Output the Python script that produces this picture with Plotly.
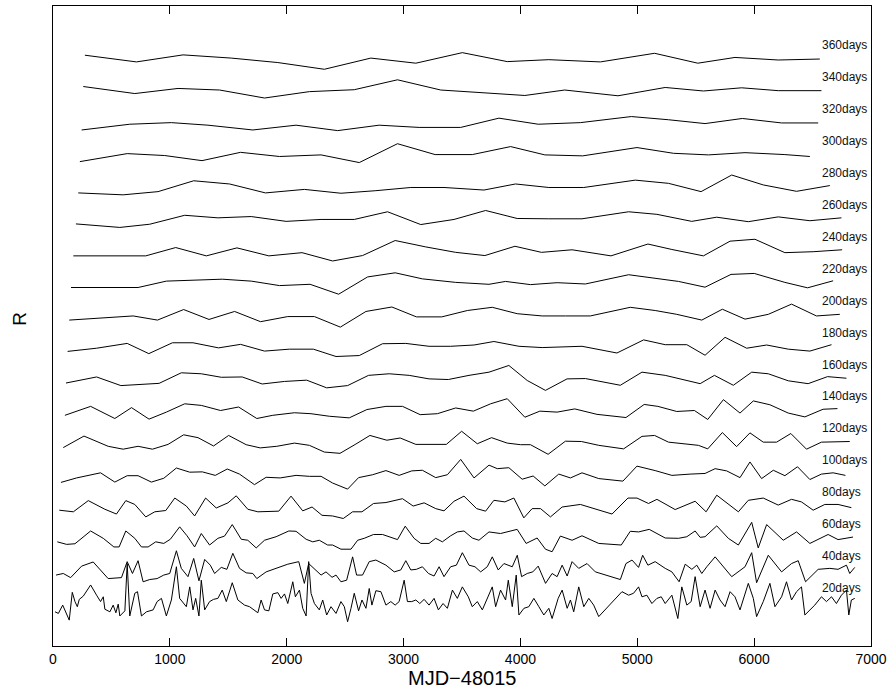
import plotly.graph_objects as go

# ---- data: binned R light curves (MJD-48015, relative R) ----
labels = ["20days", "40days", "60days", "80days", "100days", "120days", "140days",
          "160days", "180days", "200days", "220days", "240days", "260days", "280days",
          "300days", "320days", "340days", "360days"]

t20 = [17, 46, 83, 139, 165, 188, 208, 225, 259, 322,
       373, 407, 430, 444, 487, 515, 538, 558, 572, 615,
       635, 657, 700, 723, 757, 800, 857, 891, 928, 970,
       1013, 1056, 1084, 1141, 1170, 1198, 1221, 1249, 1269, 1298,
       1340, 1374, 1411, 1448, 1483, 1534, 1582, 1639, 1682, 1724,
       1753, 1781, 1810, 1847, 1881, 1924, 1952, 1981, 2009, 2052,
       2074, 2109, 2137, 2166, 2188, 2208, 2237, 2279, 2308, 2342,
       2379, 2422, 2464, 2493, 2521, 2550, 2578, 2615, 2644, 2678,
       2706, 2729, 2763, 2806, 2849, 2891, 2928, 2962, 3005, 3033,
       3070, 3105, 3139, 3176, 3218, 3261, 3298, 3338, 3375, 3418,
       3460, 3503, 3554, 3588, 3631, 3674, 3716, 3759, 3788, 3830,
       3873, 3896, 3930, 3964, 3987, 4030, 4072, 4115, 4158, 4200,
       4243, 4271, 4323, 4357, 4400, 4428, 4456, 4499, 4542, 4585,
       4627, 4670, 4869, 4926, 4968, 5011, 5040, 5082, 5125, 5168,
       5205, 5239, 5296, 5347, 5381, 5424, 5461, 5495, 5538, 5580,
       5623, 5666, 5708, 5751, 5794, 5836, 5879, 5922, 5950, 5993,
       6021, 6078, 6135, 6178, 6235, 6277, 6320, 6363, 6405, 6434,
       6477, 6519, 6576, 6619, 6662, 6704, 6747, 6790, 6810, 6832,
       6861]
r20 = [-0.23, -0.28, -0.02, -0.49, 0.38, 0.09, -0.07, 0.16, 0.26, 0.61,
       0.29, 0.09, 0.24, -0.15, -0.23, -0.02, -0.26, 0.01, -0.36, -0.20,
       1.28, -0.36, 0.35, 0.40, -0.36, -0.23, -0.17, 0.09, 0.19, -0.36,
       0.14, 1.18, 0.19, -0.07, 0.55, -0.17, 0.19, -0.36, 0.76, -0.17,
       0.09, 0.16, 0.19, 0.45, 0.09, 0.68, 0.14, -0.02, -0.07, -0.17,
       -0.26, 0.14, -0.17, -0.20, 0.33, 0.37, 0.19, 0.33, 0.03, 0.71,
       0.24, 0.45, -0.12, -0.36, 1.34, 0.35, 0.03, -0.17, 0.14, -0.33,
       -0.07, -0.28, 0.09, -0.07, -0.54, -0.12, 0.35, -0.20, 0.14, -0.12,
       0.50, -0.02, 0.43, 0.40, -0.02, 0.09, -0.02, 0.09, 0.76, 0.09,
       0.09, 0.14, 0.03, 0.16, -0.02, 0.19, -0.17, 0.03, -0.12, 0.45,
       0.19, 0.55, 0.24, -0.07, 0.09, -0.17, 0.19, 0.55, -0.07, 0.45,
       0.14, 0.76, -0.07, 0.92, -0.33, -0.12, -0.07, 0.19, -0.07, -0.33,
       -0.12, -0.44, 0.19, 0.45, -0.12, 0.14, -0.23, 0.55, -0.07, 0.19,
       -0.02, -0.38, 0.40, 0.29, 0.35, 0.55, 0.24, 0.29, 0.03, 0.19,
       0.24, 0.03, 0.29, -0.44, 0.55, -0.02, 0.09, 0.87, -0.07, 0.45,
       -0.12, 0.45, 0.14, -0.07, 0.40, 0.24, -0.17, 0.29, 0.66, 0.19,
       -0.38, 0.09, 0.66, -0.07, 0.24, 0.71, 0.14, 0.40, 0.55, -0.33,
       -0.17, -0.02, 0.24, 0.09, 0.24, 0.03, 0.29, 0.45, -0.33, 0.14,
       0.19]

t40 = [26, 88, 151, 245, 344, 472, 586, 635, 680, 728,
       771, 828, 891, 948, 999, 1056, 1098, 1155, 1204, 1249,
       1298, 1346, 1383, 1440, 1488, 1539, 1596, 1653, 1710, 1744,
       1824, 1909, 2009, 2103, 2151, 2188, 2237, 2294, 2336, 2388,
       2422, 2464, 2513, 2564, 2598, 2649, 2706, 2763, 2849, 2920,
       2976, 3019, 3062, 3110, 3161, 3213, 3261, 3304, 3346, 3403,
       3452, 3503, 3560, 3611, 3660, 3716, 3759, 3810, 3859, 3930,
       3973, 4010, 4058, 4106, 4152, 4215, 4271, 4314, 4357, 4400,
       4442, 4499, 4570, 4641, 4855, 4903, 4955, 5011, 5046, 5091,
       5153, 5239, 5296, 5358, 5410, 5467, 5509, 5552, 5595, 5666,
       5808, 5922, 5979, 6021, 6121, 6235, 6320, 6377, 6440, 6548,
       6648, 6718, 6790, 6818, 6861]
r40 = [-0.08, -0.03, -0.16, 0.20, 0.33, -0.19, -0.16, 0.34, -0.03, 0.37,
       -0.29, -0.22, -0.19, -0.08, -0.03, 0.68, 0.13, -0.13, 0.44, -0.26,
       0.41, 0.23, -0.03, 0.16, 0.10, 0.60, 0.13, -0.01, -0.03, -0.19,
       0.02, 0.13, 0.26, 0.34, -0.34, 0.28, 0.10, -0.08, 0.02, -0.15,
       -0.08, -0.29, -0.24, 0.49, -0.08, -0.08, 0.34, 0.39, 0.23, 0.02,
       0.08, 0.37, 0.08, 0.10, 0.18, -0.03, -0.11, 0.18, -0.13, 0.18,
       0.23, 0.62, 0.23, 0.18, 0.02, 0.18, 0.49, 0.08, 0.28, 0.18,
       0.54, -0.13, -0.03, 0.02, 0.20, -0.34, -0.03, -0.13, 0.23, -0.11,
       0.34, 0.13, 0.28, 0.02, -0.22, 0.28, 0.39, 0.16, 0.54, 0.23,
       0.34, 0.13, 0.02, -0.29, 0.26, 0.10, 0.23, -0.03, 0.18, 0.49,
       -0.13, 0.18, 0.62, -0.32, 0.54, 0.02, 0.28, 0.37, -0.29, 0.10,
       0.13, 0.10, 0.23, -0.03, 0.16]

t60 = [37, 117, 188, 322, 430, 521, 566, 623, 700, 757, 814, 879, 948, 1004,
       1084, 1147, 1212, 1269, 1340, 1411, 1468, 1534, 1611, 1667, 1739, 1810,
       1909, 2018, 2080, 2166, 2223, 2279, 2350, 2393, 2464, 2550, 2607, 2663,
       2743, 2820, 2948, 3014, 3090, 3147, 3218, 3275, 3332, 3403, 3460, 3517,
       3588, 3645, 3731, 3830, 3972, 4049, 4143, 4214, 4271, 4342, 4442, 4527,
       4670, 4863, 4940, 5011, 5102, 5239, 5353, 5424, 5495, 5538, 5580, 5680,
       5779, 5865, 5979, 6035, 6107, 6249, 6363, 6477, 6633, 6718, 6846]
r60 = [-0.04, -0.12, -0.10, 0.30, 0.07, -0.20, -0.20, 0.30, 0.07, -0.20, -0.20,
       -0.04, -0.09, 0.04, 0.43, 0.15, -0.20, 0.22, -0.14, 0.07, 0.14, 0.50, 0.04,
       0.01, -0.23, 0.01, 0.12, 0.30, 0.29, 0.04, -0.04, 0.01, -0.14, -0.14, -0.27,
       -0.27, 0.01, 0.07, 0.19, 0.19, 0.03, 0.45, 0.07, -0.09, -0.09, 0.07, -0.04,
       0.15, 0.27, 0.30, 0.08, 0.01, 0.27, 0.22, 0.35, -0.09, 0.08, -0.27, -0.35,
       0.14, 0.01, 0.15, -0.09, -0.14, 0.29, 0.27, 0.35, 0.08, 0.07, 0.12, 0.30,
       0.10, 0.12, 0.46, 0.07, -0.14, 0.57, -0.23, 0.50, 0.01, 0.27, -0.09, 0.19,
       0.03, 0.11]

t80 = [54, 174, 302, 444, 543, 623, 700, 794, 871, 965, 1042, 1141, 1212, 1306,
       1397, 1497, 1568, 1667, 1753, 1932, 2037, 2137, 2217, 2302, 2393, 2484,
       2564, 2644, 2743, 2849, 2991, 3082, 3176, 3275, 3346, 3432, 3517, 3625,
       3702, 3773, 3867, 3944, 4029, 4100, 4172, 4257, 4357, 4513, 4784, 4920,
       4997, 5096, 5168, 5324, 5495, 5589, 5680, 5865, 5950, 6078, 6206, 6320,
       6405, 6505, 6605, 6718, 6832]
r80 = [-0.05, -0.10, 0.25, -0.02, -0.17, 0.25, 0.13, -0.26, -0.10, -0.06, 0.33,
       0.08, -0.23, 0.33, 0.02, 0.18, 0.40, -0.02, -0.10, -0.08, 0.39, -0.07, 0.05,
       -0.21, -0.23, -0.31, -0.10, -0.10, 0.16, 0.19, 0.31, 0.08, 0.18, 0.00, -0.07,
       0.23, 0.39, 0.00, -0.08, 0.26, 0.21, 0.33, -0.29, 0.00, 0.00, -0.26, 0.05,
       0.13, -0.17, 0.33, 0.33, 0.16, 0.29, -0.03, 0.23, -0.10, 0.42, -0.10, 0.26,
       0.33, 0.11, 0.29, 0.21, -0.05, 0.13, 0.13, 0.03]

t100 = [68, 202, 407, 529, 635, 728, 842, 948, 1056, 1170, 1278, 1389, 1491, 1596,
        1724, 1824, 1944, 2080, 2194, 2294, 2393, 2521, 2615, 2735, 2849, 2962,
        3070, 3161, 3275, 3375, 3489, 3603, 3731, 3802, 3901, 4015, 4109, 4209,
        4328, 4428, 4527, 4670, 4877, 4997, 5153, 5296, 5452, 5580, 5666, 5765,
        5879, 5964, 6064, 6164, 6263, 6371, 6477, 6576, 6676, 6781]
r100 = [-0.18, -0.04, 0.12, -0.17, 0.03, 0.03, -0.17, -0.05, 0.27, 0.14, 0.15,
        0.04, 0.24, 0.08, -0.25, -0.02, -0.04, 0.04, 0.01, 0.01, -0.20, -0.39,
        -0.03, 0.06, 0.19, 0.04, 0.18, 0.20, -0.03, 0.06, 0.54, -0.04, 0.36, 0.25,
        0.28, -0.08, 0.02, -0.29, 0.08, -0.04, 0.12, -0.06, -0.14, 0.33, 0.19, 0.04,
        0.08, 0.10, 0.25, 0.18, -0.03, 0.46, -0.06, 0.20, 0.03, 0.31, -0.09, 0.08,
        0.12, 0.04]

t120 = [88, 265, 472, 600, 728, 851, 985, 1118, 1241, 1374, 1503, 1653, 1773,
        1915, 2066, 2194, 2322, 2456, 2592, 2712, 2857, 2971, 3105, 3233, 3366,
        3497, 3631, 3753, 3887, 4001, 4086, 4237, 4385, 4522, 4670, 4883, 5040,
        5148, 5267, 5523, 5603, 5728, 5850, 5964, 6078, 6192, 6314, 6448, 6576, 6818]
r120 = [-0.09, 0.27, -0.05, -0.14, -0.05, -0.14, 0.01, 0.31, 0.22, -0.04, 0.29,
        0.00, -0.10, -0.05, 0.05, -0.02, -0.23, -0.27, 0.02, 0.29, 0.14, 0.21, 0.01,
        0.01, 0.01, 0.42, 0.03, 0.22, 0.05, 0.00, 0.00, -0.30, 0.11, 0.10, -0.02,
        -0.13, 0.26, 0.29, 0.08, -0.02, -0.13, 0.38, -0.06, 0.37, 0.08, 0.08, 0.35,
        -0.14, 0.08, 0.10]

t140 = [102, 322, 529, 672, 822, 970, 1127, 1269, 1434, 1588, 1744, 1881, 2066,
        2208, 2365, 2535, 2686, 2849, 2991, 3142, 3289, 3446, 3597, 3745, 3887,
        4038, 4166, 4314, 4465, 4655, 4903, 5059, 5176, 5338, 5489, 5603, 5737,
        5879, 5993, 6135, 6292, 6434, 6590, 6713]
r140 = [-0.08, 0.20, -0.18, 0.16, -0.20, 0.02, 0.28, 0.23, 0.07, 0.18, -0.18,
        -0.08, 0.00, -0.03, -0.11, -0.16, 0.10, 0.20, 0.20, -0.06, -0.03, 0.15, 0.05,
        0.28, 0.44, -0.14, 0.05, 0.02, 0.12, -0.05, -0.15, 0.26, 0.20, 0.04, 0.07,
        -0.21, 0.41, -0.01, 0.37, 0.25, -0.01, -0.13, 0.11, 0.13]

t160 = [111, 373, 581, 743, 908, 1098, 1269, 1440, 1619, 1790, 1981, 2171, 2342,
        2521, 2700, 2877, 3048, 3218, 3383, 3560, 3731, 3901, 4058, 4214, 4399,
        4556, 4855, 5040, 5239, 5538, 5660, 5822, 5979, 6121, 6292, 6462, 6628, 6790]
r160 = [-0.07, 0.12, -0.15, -0.11, -0.08, 0.25, 0.22, 0.11, 0.12, -0.10, -0.02,
        0.02, -0.22, -0.15, 0.17, 0.22, 0.17, 0.06, 0.04, 0.17, 0.27, 0.48, 0.01,
        -0.30, 0.06, 0.07, -0.14, 0.27, 0.17, -0.09, 0.17, -0.14, 0.27, 0.22, 0.00,
        -0.09, 0.13, 0.08]

t180 = [125, 373, 635, 820, 1022, 1198, 1417, 1605, 1810, 2023, 2228, 2422, 2621,
        2820, 3019, 3218, 3403, 3603, 3773, 3987, 4186, 4527, 4826, 5054, 5239,
        5424, 5580, 5751, 5936, 6107, 6292, 6477, 6662]
r180 = [-0.08, 0.02, 0.17, -0.15, 0.19, 0.19, 0.03, 0.14, -0.07, -0.01, -0.01,
        -0.24, -0.21, 0.16, 0.17, 0.08, 0.08, 0.12, 0.23, 0.08, 0.04, 0.08, -0.13,
        0.28, 0.13, 0.13, -0.20, 0.36, 0.02, 0.12, -0.01, -0.07, 0.13]

t200 = [139, 401, 686, 894, 1118, 1335, 1554, 1776, 2009, 2237, 2459, 2678, 2900,
        3110, 3327, 3546, 3759, 3972, 4186, 4385, 4598, 4940, 5153, 5338, 5552,
        5728, 5922, 6121, 6320, 6533, 6733]
r200 = [-0.10, -0.04, 0.03, -0.10, 0.23, -0.08, 0.17, -0.15, 0.01, 0.01, -0.32,
        0.17, 0.31, 0.00, 0.00, 0.20, 0.30, 0.10, 0.03, 0.03, 0.03, 0.30, 0.20, 0.08,
        -0.10, 0.24, -0.07, 0.08, 0.40, 0.03, 0.08]

t220 = [154, 458, 728, 970, 1198, 1448, 1696, 1938, 2200, 2444, 2692, 2928, 3161,
        3446, 3731, 3873, 4086, 4314, 4556, 4926, 5353, 5580, 5802, 6001, 6263,
        6457, 6676]
r220 = [-0.08, -0.08, -0.08, 0.12, 0.14, 0.18, 0.12, -0.02, 0.02, -0.29, 0.25,
        0.38, 0.19, 0.08, 0.02, 0.11, 0.01, 0.07, 0.03, 0.32, 0.11, -0.07, 0.33,
        0.36, 0.08, -0.09, 0.13]

t240 = [174, 486, 794, 1050, 1312, 1574, 1847, 2131, 2393, 2649, 2928, 3190, 3446,
        3696, 3953, 4180, 4442, 4775, 5091, 5296, 5566, 5794, 6007, 6263, 6505, 6753]
r240 = [-0.09, -0.09, -0.09, 0.17, -0.09, 0.16, -0.09, 0.01, -0.25, -0.08, 0.39,
        0.19, 0.02, -0.08, 0.21, 0.02, 0.10, -0.09, 0.28, 0.11, -0.09, 0.37, 0.43,
        0.01, 0.04, 0.10]

t260 = [196, 572, 828, 1127, 1411, 1696, 1995, 2294, 2578, 2863, 3147, 3432, 3702,
        3972, 4243, 4527, 4926, 5168, 5466, 5680, 5950, 6206, 6477, 6747]
r260 = [-0.09, -0.20, -0.10, 0.18, 0.10, 0.14, -0.01, 0.05, 0.05, 0.29, -0.11,
        0.05, 0.33, 0.08, 0.07, 0.07, 0.29, 0.21, -0.01, 0.12, -0.02, 0.13, 0.01, 0.10]

t280 = [216, 600, 899, 1204, 1511, 1818, 2151, 2464, 2763, 3062, 3346, 3688, 3958,
        4243, 4542, 4983, 5267, 5546, 5808, 6078, 6363, 6648]
r280 = [-0.12, -0.18, -0.08, 0.26, 0.16, -0.12, -0.01, -0.13, -0.05, 0.05, 0.05,
        -0.03, 0.16, 0.05, 0.05, 0.28, 0.18, -0.08, 0.44, 0.13, -0.07, 0.11]

t300 = [230, 635, 956, 1275, 1605, 1938, 2294, 2621, 2948, 3270, 3588, 3916, 4209,
        4533, 4997, 5310, 5609, 5922, 6263, 6477]
r300 = [-0.14, 0.11, 0.05, -0.11, 0.15, 0.02, 0.07, -0.17, 0.42, 0.08, 0.08, 0.33,
        0.07, 0.04, 0.30, 0.12, 0.07, 0.14, 0.08, 0.02]

t320 = [245, 657, 1013, 1326, 1710, 2080, 2436, 2791, 3133, 3489, 3816, 4152, 4513,
        4949, 5268, 5580, 5899, 6235, 6548]
r320 = [-0.15, 0.03, 0.08, 0.00, -0.15, 0.00, -0.17, 0.00, -0.07, -0.07, 0.22,
        0.03, 0.08, 0.27, 0.17, 0.05, 0.21, 0.07, 0.07]

t340 = [259, 700, 1070, 1426, 1810, 2194, 2578, 2948, 3318, 3700, 4038, 4379, 4835,
        5239, 5566, 5893, 6206, 6576]
r340 = [0.21, -0.01, 0.15, 0.10, -0.15, 0.05, 0.11, 0.42, 0.10, 0.00, -0.07, 0.10,
        -0.08, 0.18, 0.07, 0.17, 0.08, 0.08]

t360 = [273, 714, 1113, 1525, 1924, 2322, 2720, 3105, 3503, 3887, 4243, 4684, 5148,
        5518, 5836, 6206, 6562]
r360 = [0.19, -0.02, 0.20, 0.10, -0.04, -0.25, 0.10, -0.06, 0.27, -0.01, 0.05,
        -0.02, 0.25, -0.06, 0.12, 0.04, 0.07]

times = [t20, t40, t60, t80, t100, t120, t140, t160, t180, t200, t220, t240,
         t260, t280, t300, t320, t340, t360]
mags = [r20, r40, r60, r80, r100, r120, r140, r160, r180, r200, r220, r240,
        r260, r280, r300, r320, r340, r360]
xticks = [0, 1000, 2000, 3000, 4000, 5000, 6000, 7000]

# ---- presentation ----
BASE = 1.3      # offset of the lowest curve
STEP = 1.0      # vertical separation between curves
LABEL_DY = 0.51
LABEL_X = 6560
FONT = "Liberation Sans, Arial, Helvetica, sans-serif"

fig = go.Figure()
annotations = []
for i, (t, m, lab) in enumerate(zip(times, mags, labels)):
    off = BASE + STEP * i
    fig.add_trace(go.Scatter(
        x=t, y=[v + off for v in m], mode="lines",
        line=dict(color="black", width=1), showlegend=False, hoverinfo="skip"))
    annotations.append(dict(
        x=LABEL_X, y=off + LABEL_DY, xref="x", yref="y", text=lab,
        showarrow=False, xanchor="left", yanchor="middle",
        font=dict(family=FONT, size=12, color="#111111")))

annotations.append(dict(
    x=0.5, y=-0.05, xref="paper", yref="paper", text="MJD\u221248015",
    showarrow=False, xanchor="center", yanchor="middle",
    font=dict(family=FONT, size=20, color="black")))
annotations.append(dict(
    x=-0.041, y=0.512, xref="paper", yref="paper", text="R", textangle=-90,
    showarrow=False, xanchor="center", yanchor="middle",
    font=dict(family=FONT, size=19, color="black")))

fig.update_layout(
    width=892, height=689,
    margin=dict(l=53, r=19, t=5, b=43),
    paper_bgcolor="white", plot_bgcolor="white",
    annotations=annotations,
    font=dict(family=FONT, color="black"),
)
fig.update_xaxes(
    range=[0, 7000], tickvals=xticks, ticktext=[str(v) for v in xticks],
    ticks="inside", ticklen=8, tickwidth=1, tickcolor="black",
    showline=True, linecolor="black", linewidth=1, mirror="ticks",
    showgrid=False, zeroline=False,
    tickfont=dict(family=FONT, size=14, color="black"))
fig.update_yaxes(
    range=[0, 20.03], showticklabels=False, ticks="",
    showline=True, linecolor="black", linewidth=1, mirror=True,
    showgrid=False, zeroline=False)

fig.write_html("out.html",
               config={"displayModeBar": False},
               post_script="document.body.style.margin='0';"
                           "document.body.style.overflow='hidden';")
